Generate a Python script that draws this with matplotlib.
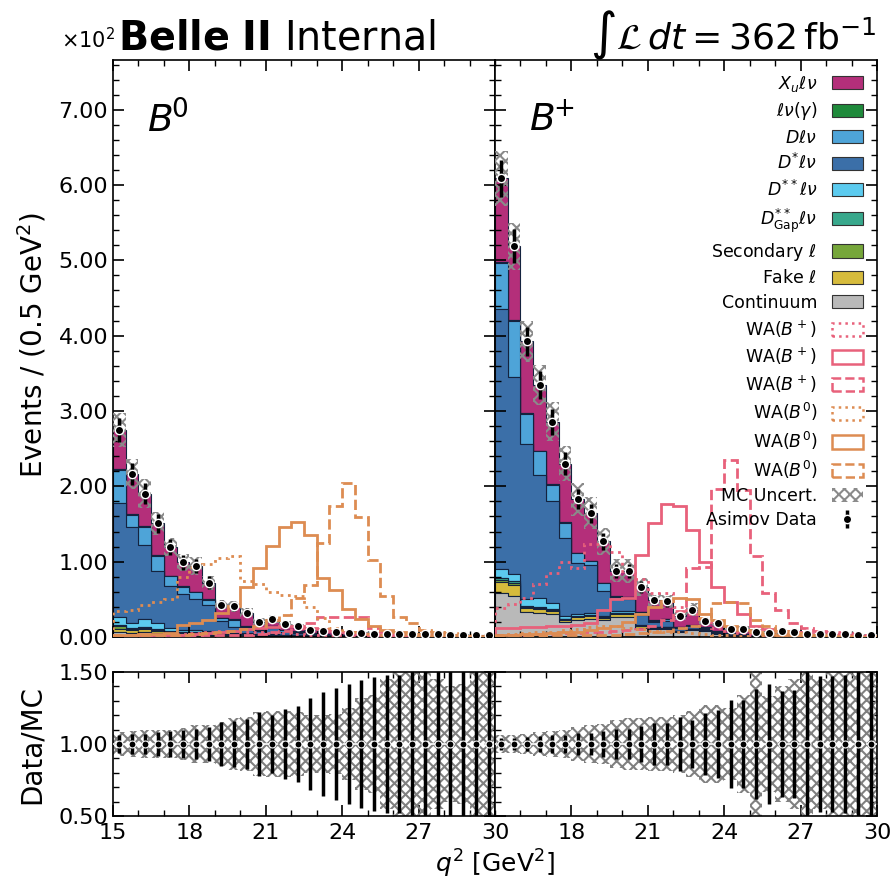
import numpy as np
import matplotlib
matplotlib.use('Agg')
import matplotlib.pyplot as plt
from matplotlib.patches import Patch
from matplotlib.ticker import MultipleLocator, FuncFormatter, FormatStrFormatter

# --- binning -----------------------------------------------------------------
edges = np.arange(15.0, 30.01, 0.5)
centers = 0.5 * (edges[1:] + edges[:-1])

# --- B0 channel: MC components (events per bin) -------------------------------
cont_b0 = [6, 5, 6, 5, 4, 3, 3, 3, 2, 2, 2, 1.5, 1.5, 1.2, 1.2, 1, 1, 0.8, 0.8, 0.7, 0.6, 0.6, 0.5, 0.5, 0.5, 0.5, 0.4, 0.4, 0.4, 0.4]
fake_b0 = [5, 4, 4, 3, 2, 2, 2, 1.5, 1, 1, 1, 0.8, 0.8, 0.6, 0.5, 0.4, 0.4, 0.3, 0.3, 0.3, 0.2, 0.2, 0.2, 0.2, 0.2, 0.1, 0.1, 0.1, 0.1, 0.1]
sec_b0 = [3, 2, 2, 1.5, 1, 1, 1, 0.8, 0.6, 0.5, 0.5, 0.4, 0.4, 0.3, 0.3, 0.2, 0.2, 0.2, 0.1, 0.1, 0.1, 0.1, 0.1, 0.1, 0.1, 0.1, 0.1, 0.1, 0.1, 0.1]
gap_b0 = [2, 1.5, 1.5, 1.5, 1, 1, 0.8, 0.7, 0.5, 0.5, 0.4, 0.3, 0.3, 0.2, 0.2, 0.1, 0.1, 0.1, 0.1, 0.1, 0.1, 0.1, 0.1, 0.1, 0.1, 0.1, 0.1, 0.1, 0.1, 0.1]
dss_b0 = [11, 6, 10, 8, 4, 2.5, 2, 1.5, 1.5, 1, 1, 0.8, 0.8, 0.5, 0.5, 0.3, 0.3, 0.2, 0.2, 0.2, 0.1, 0.1, 0.1, 0.1, 0.1, 0.1, 0.1, 0.1, 0.1, 0.1]
dst_b0 = [151, 128, 99, 69, 56, 48, 41, 35, 16, 8, 6, 4, 8, 4, 2.5, 1.5, 1, 0.8, 0.6, 0.5, 0.4, 0.3, 0.3, 0.2, 0.2, 0.2, 0.1, 0.1, 0.1, 0.1]
dl_b0 = [44, 16, 24, 20, 13, 9, 10, 7, 3, 10, 3, 2, 3, 2, 2, 1, 1, 0.5, 0.4, 0.3, 0.3, 0.2, 0.2, 0.2, 0.1, 0.1, 0.1, 0.1, 0.1, 0.1]
lnu_b0 = [0.8, 0.8, 0.7, 0.7, 0.6, 0.6, 0.5, 0.5, 0.5, 0.5, 0.4, 0.4, 0.4, 0.4, 0.4, 0.3, 0.3, 0.3, 0.3, 0.3, 0.3, 0.3, 0.3, 0.3, 0.2, 0.2, 0.2, 0.2, 0.2, 0.2]
xu_b0 = [52, 53, 43, 42, 38, 32, 34, 22, 18, 17, 18, 10, 9, 8, 7, 5, 3.5, 3.5, 3, 2.5, 2.5, 2.5, 2.5, 2, 2, 2, 2, 2, 1.8, 1.8]

# --- B+ channel ---------------------------------------------------------------
cont_bp = [58, 55, 33, 32, 30, 20, 22, 24, 22, 26, 26, 12, 10, 10, 6, 9, 8, 4, 2, 2, 1, 1, 1, 1, 0.5, 0.5, 0.5, 0.5, 0.3, 0.3]
fake_bp = [15, 14, 5, 5, 5, 3, 4, 4, 3, 5, 5, 2, 2, 2, 1, 1, 1, 0.5, 0.5, 0.5, 0.3, 0.3, 0.3, 0.2, 0.2, 0.2, 0.2, 0.1, 0.1, 0.1]
sec_bp = [3, 3, 1.5, 1.5, 1, 1, 1, 1, 1, 1, 1, 0.5, 0.5, 0.5, 0.3, 0.3, 0.3, 0.2, 0.2, 0.2, 0.1, 0.1, 0.1, 0.1, 0.1, 0.1, 0.1, 0.1, 0.1, 0.1]
gap_bp = [2, 2, 1, 1, 1, 0.5, 0.5, 0.5, 0.5, 0.5, 0.5, 0.3, 0.3, 0.3, 0.2, 0.2, 0.2, 0.1, 0.1, 0.1, 0.1, 0.1, 0.1, 0.1, 0.1, 0.1, 0.1, 0.1, 0.1, 0.1]
dss_bp = [12, 10, 10, 12, 8, 3, 3, 2, 2, 2, 1.5, 1, 1, 1, 0.5, 0.5, 0.5, 0.3, 0.3, 0.2, 0.2, 0.1, 0.1, 0.1, 0.1, 0.1, 0.1, 0.1, 0.1, 0.1]
dst_bp = [345, 261, 206, 164, 135, 104, 68, 64, 33, 16, 16, 14, 6, 8, 4, 3, 2, 1.5, 1, 0.8, 0.6, 0.5, 0.4, 0.3, 0.3, 0.2, 0.2, 0.2, 0.1, 0.1]
dl_bp = [62, 75, 40, 31, 22, 20, 13, 5, 10, 3, 3, 3, 2, 2, 1.5, 1, 1, 0.5, 0.5, 0.4, 0.3, 0.3, 0.2, 0.2, 0.2, 0.1, 0.1, 0.1, 0.1, 0.1]
lnu_bp = [1, 1, 0.8, 0.8, 0.7, 0.7, 0.6, 0.6, 0.5, 0.5, 0.5, 0.5, 0.4, 0.4, 0.4, 0.3, 0.3, 0.3, 0.3, 0.3, 0.3, 0.3, 0.3, 0.2, 0.2, 0.2, 0.2, 0.2, 0.2, 0.2]
xu_bp = [111, 98, 95, 87, 83, 78, 71, 63, 55, 34, 34, 33, 27, 23, 14, 21, 8, 11, 6, 6, 4, 3, 5, 5, 2, 3, 3, 3, 2, 1.5]

# relative MC uncertainty
mcunc_b0 = [0.08, 0.09, 0.10, 0.10, 0.10, 0.11, 0.13, 0.13, 0.15, 0.18, 0.19, 0.22, 0.23, 0.23, 0.22, 0.20, 0.20, 0.21, 0.25, 0.32, 0.34, 0.45, 0.60, 0.60, 0.55, 0.45, 0.40, 0.42, 0.60, 0.60]
mcunc_bp = [0.06, 0.06, 0.07, 0.08, 0.09, 0.10, 0.12, 0.13, 0.14, 0.17, 0.18, 0.18, 0.19, 0.19, 0.20, 0.23, 0.27, 0.27, 0.25, 0.34, 0.55, 0.33, 0.40, 0.45, 0.50, 0.45, 0.55, 0.50, 0.55, 0.60]

# --- weak annihilation shapes ------------------------------------------------
wa_b0_dot_l = [34, 36, 43, 47, 50, 80, 93, 97, 105, 107, 74, 71, 60, 56, 54, 40, 25, 12, 7, 4, 3, 2, 2, 1, 1, 1, 1, 0.5, 0.5, 0.5]
wa_b0_sol_l = [3, 3, 4, 4, 5, 16, 19, 23, 32, 41, 66, 91, 121, 146, 153, 136, 78, 62, 37, 24, 15, 9, 6, 4, 3, 2, 2, 1, 1, 1]
wa_b0_dash_l = [2, 2, 2, 2, 3, 3, 4, 5, 6, 8, 10, 14, 22, 29, 52, 69, 125, 174, 204, 159, 102, 54, 26, 18, 9, 6, 5, 4, 3, 2]
wa_bp_dot_l = [1, 1, 2, 2, 3, 4, 5, 6, 8, 8, 7, 6, 5, 5, 4, 3, 2, 2, 1, 1, 1, 0.5, 0.5, 0.5, 0.3, 0.3, 0.3, 0.2, 0.2, 0.2]
wa_bp_sol_l = [1, 1, 1, 2, 2, 3, 4, 5, 6, 8, 10, 12, 13, 14, 14, 12, 10, 8, 6, 4, 3, 2, 1, 1, 1, 0.5, 0.5, 0.5, 0.3, 0.3]
wa_bp_dash_l = [1, 1, 1, 1, 1, 1, 1, 2, 2, 2, 3, 4, 6, 8, 12, 18, 27, 27, 27, 27, 12, 7, 4, 3, 2, 1, 1, 1, 0.5, 0.5]

wa_bp_dot_r = [38, 44, 52, 70, 85, 99, 92, 124, 124, 113, 85, 77, 58, 58, 40, 30, 20, 12, 8, 5, 3, 2, 2, 1, 1, 1, 1, 0.5, 0.5, 0.5]
wa_bp_sol_r = [12, 12, 13, 13, 14, 15, 16, 18, 36, 50, 52, 109, 151, 177, 174, 142, 100, 67, 47, 31, 14, 10, 8, 6, 4, 3, 2, 2, 1, 1]
wa_bp_dash_r = [3, 3, 3, 4, 4, 5, 5, 6, 7, 8, 9, 10, 15, 22, 35, 91, 93, 197, 235, 195, 107, 58, 36, 18, 12, 8, 6, 5, 4, 3]
wa_b0_dot_r = [3, 4, 5, 6, 7, 9, 11, 13, 14, 14, 12, 10, 8, 7, 6, 5, 4, 3, 2, 1.5, 1, 1, 0.5, 0.5, 0.5, 0.3, 0.3, 0.3, 0.2, 0.2]
wa_b0_sol_r = [3, 3, 4, 4, 5, 6, 7, 9, 12, 15, 20, 30, 40, 48, 52, 50, 30, 22, 14, 9, 6, 4, 3, 2, 2, 1, 1, 1, 0.5, 0.5]
wa_b0_dash_r = [1, 1, 1, 1, 2, 2, 2, 2, 3, 3, 4, 5, 6, 8, 12, 15, 25, 45, 47, 45, 23, 14, 8, 5, 3, 2, 2, 1, 1, 1]

labels = [r'Continuum', r'Fake $\ell$', r'Secondary $\ell$', r'$D^{**}_{\mathrm{Gap}}\ell\nu$',
          r'$D^{**}\ell\nu$', r'$D^{*}\ell\nu$', r'$D\ell\nu$', r'$\ell\nu(\gamma)$', r'$X_u\ell\nu$']
colors = ['#b9b9b9', '#d6bb3c', '#76a63a', '#38a88c', '#5ccbef', '#3b6fa8', '#4ea4d8', '#1f8a3b', '#b42f7a']
c_bp = '#e8617b'
c_b0 = '#dd8c52'

comps_b0 = [cont_b0, fake_b0, sec_b0, gap_b0, dss_b0, dst_b0, dl_b0, lnu_b0, xu_b0]
comps_bp = [cont_bp, fake_bp, sec_bp, gap_bp, dss_bp, dst_bp, dl_bp, lnu_bp, xu_bp]

plt.rcParams['hatch.linewidth'] = 1.5
plt.rcParams['font.size'] = 16

fig = plt.figure(figsize=(8.94, 8.88), dpi=100)
W, H = 894, 888
def box(x0, y0, x1, y1):
    return [x0 / W, 1 - y1 / H, (x1 - x0) / W, (y1 - y0) / H]

ax_l = fig.add_axes(box(113, 60, 495, 637))
ax_r = fig.add_axes(box(495, 60, 877, 637), sharey=ax_l)
rx_l = fig.add_axes(box(113, 672, 495, 816), sharex=ax_l)
rx_r = fig.add_axes(box(495, 672, 877, 816), sharex=ax_r, sharey=rx_l)

panels = [(ax_l, rx_l, comps_b0, mcunc_b0,
           [(wa_bp_dot_l, c_bp, ':'), (wa_bp_sol_l, c_bp, '-'), (wa_bp_dash_l, c_bp, '--'),
            (wa_b0_dot_l, c_b0, ':'), (wa_b0_sol_l, c_b0, '-'), (wa_b0_dash_l, c_b0, '--')]),
          (ax_r, rx_r, comps_bp, mcunc_bp,
           [(wa_bp_dot_r, c_bp, ':'), (wa_bp_sol_r, c_bp, '-'), (wa_bp_dash_r, c_bp, '--'),
            (wa_b0_dot_r, c_b0, ':'), (wa_b0_sol_r, c_b0, '-'), (wa_b0_dash_r, c_b0, '--')])]

for ax, rx, comps, unc, walines in panels:
    comps = [np.array(c, dtype=float) for c in comps]
    tot = np.sum(comps, axis=0)
    unc = np.array(unc)

    ax.hist([centers] * len(comps), bins=edges, weights=comps, stacked=True,
            histtype='stepfilled', color=colors, edgecolor='#14233f', linewidth=0.8)
    ax.stairs(tot * (1 + unc), edges, baseline=tot * (1 - unc), fill=True,
              facecolor='none', edgecolor='#8a8a8a', hatch='xxx', linewidth=0, zorder=3)
    for vals, c, ls in walines:
        ax.stairs(vals, edges, color=c, linestyle=ls, linewidth=2, zorder=4)
    eb = ax.errorbar(centers, tot, yerr=np.sqrt(tot), fmt='o', color='black', ms=6,
                     mec='white', mew=1.0, elinewidth=2.5, capsize=0, zorder=5)

    # ratio
    ones = np.ones_like(tot)
    rx.stairs(1 + unc, edges, baseline=1 - unc, fill=True, facecolor='none',
              edgecolor='#808080', hatch='xxx', linewidth=0, zorder=2)
    rx.axhline(1.0, color='white', ls='--', lw=1.2, zorder=3)
    rx.errorbar(centers, ones, yerr=1 / np.sqrt(tot), fmt='o', color='black', ms=5,
                mec='white', mew=0.8, elinewidth=2.5, capsize=0, zorder=5)

    for a in (ax, rx):
        a.tick_params(which='both', direction='in', top=True, right=True, labelsize=16)
        a.tick_params(which='major', length=8, width=1.2)
        a.tick_params(which='minor', length=4, width=1.0)
        a.tick_params(axis='x', which='major', pad=5)
        for s in a.spines.values():
            s.set_linewidth(1.2)
        a.xaxis.set_major_locator(MultipleLocator(3))
        a.xaxis.set_minor_locator(MultipleLocator(1))
    ax.tick_params(labelbottom=False)

ax_l.set_xlim(15, 30)
ax_r.set_xlim(15, 30)
ax_l.set_ylim(0, 766)
ax_l.yaxis.set_major_locator(MultipleLocator(100))
ax_l.yaxis.set_minor_locator(MultipleLocator(20))
ax_l.yaxis.set_major_formatter(FuncFormatter(lambda v, p: f'{v / 100:.2f}'))
ax_r.tick_params(labelleft=False)
rx_r.tick_params(labelleft=False)

rx_l.set_ylim(0.5, 1.5)
rx_l.yaxis.set_major_locator(MultipleLocator(0.5))
rx_l.yaxis.set_minor_locator(MultipleLocator(0.1))
rx_l.yaxis.set_major_formatter(FormatStrFormatter('%.2f'))
rx_r.set_xticks([18, 21, 24, 27, 30])

ax_l.text(0.09, 0.895, r'$B^{\!\mathit{0}}$', transform=ax_l.transAxes, fontsize=27, va='center')
ax_r.text(0.09, 0.895, r'$B^{\!\!+}$', transform=ax_r.transAxes, fontsize=27, va='center')

# legend
handles = []
for c, lab in zip(colors[::-1], labels[::-1]):
    handles.append(Patch(facecolor=c, edgecolor='#333333', linewidth=0.8, label=lab))
for c, nm in [(c_bp, r'WA($B^+$)'), (c_b0, r'WA($B^0$)')]:
    for ls in [':', '-', '--']:
        handles.append(Patch(facecolor='none', edgecolor=c, linestyle=ls, linewidth=1.8, label=nm))
handles.append(Patch(facecolor='none', edgecolor='#8a8a8a', hatch='xxx', linewidth=0, label='MC Uncert.'))
handles.append(eb)
lab_list = [h.get_label() for h in handles[:-1]] + ['Asimov Data']
ax_r.legend(handles, lab_list, loc='upper right', bbox_to_anchor=(1.0, 1.0), frameon=False,
            markerfirst=False, fontsize=12.5, labelspacing=0.37, handlelength=1.8,
            handleheight=0.8, handletextpad=0.85, borderaxespad=0.4)

# figure texts
fig.text(115 / W, 1 - 48 / H, r'$\times10^2$', fontsize=15, ha='right', va='baseline')
fig.text(118 / W, 1 - 49 / H, r'$\mathbf{Belle\ II}$ Internal', fontsize=28.5, va='baseline')
fig.text(877 / W, 1 - 49 / H, r'$\int\mathcal{L}\,dt = 362\,\mathrm{fb}^{-1}$', fontsize=26,
         ha='right', va='baseline')
fig.text(32 / W, 1 - 345 / H, r'Events / (0.5 GeV$^2$)', rotation=90, fontsize=20, ha='center', va='center')
fig.text(32 / W, 1 - 744 / H, 'Data/MC', rotation=90, fontsize=20, ha='center', va='center')
fig.text(495 / W, 1 - 864 / H, r'$q^2$ [GeV$^2$]', fontsize=18, ha='center', va='center')

fig.savefig('out.png', dpi=100)
